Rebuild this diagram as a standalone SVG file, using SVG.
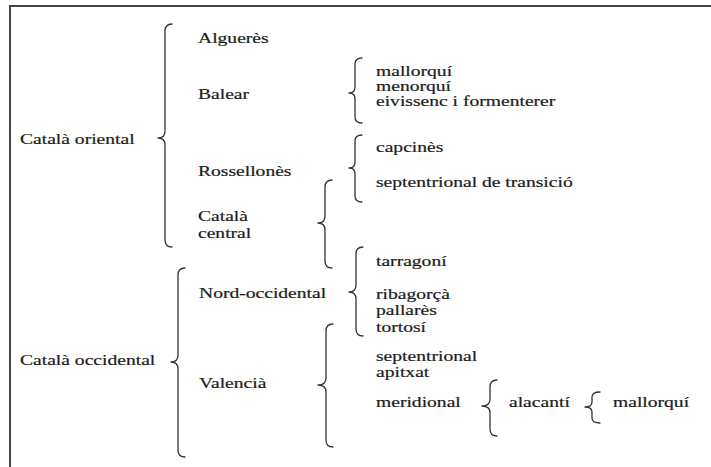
<svg xmlns="http://www.w3.org/2000/svg" width="711" height="467" viewBox="0 0 711 467">
<style>
text{font-family:"Liberation Serif","DejaVu Serif",serif;font-size:14.5px;fill:#1c1c1c;stroke:#1c1c1c;stroke-width:0.2;}
.br{fill:none;stroke:#333;stroke-width:1.3;stroke-linecap:round;stroke-linejoin:round;}
.frame{fill:none;stroke:#444;stroke-width:2;}
</style>
<rect width="711" height="467" fill="#fff"/>
<path class="frame" d="M10,467 L10,6 L711,6"/>
<g id="connectors">
<path class="br" d="M172,24 Q165,24 165,31 L165,131 Q165,138 158,138 Q165,138 165,145 L165,240 Q165,247 172,247"/>
<path class="br" d="M362,58 Q355,58 355,64 L355,87 Q355,93 349,93 Q355,93 355,99 L355,117 Q355,123 362,123"/>
<path class="br" d="M362,135 Q355,135 355,141 L355,162 Q355,168 349,168 Q355,168 355,174 L355,196 Q355,202 362,202"/>
<path class="br" d="M332,180 Q325,180 325,187 L325,216 Q325,223 318,223 Q325,223 325,230 L325,261 Q325,268 332,268"/>
<path class="br" d="M363,247 Q356,247 356,254 L356,285 Q356,292 349,292 Q356,292 356,299 L356,329 Q356,336 363,336"/>
<path class="br" d="M185,268 Q178,268 178,275 L178,355 Q178,362 171,362 Q178,362 178,369 L178,450 Q178,457 185,457"/>
<path class="br" d="M333,324 Q326,324 326,331 L326,378 Q326,385 318,385 Q326,385 326,392 L326,440 Q326,447 333,447"/>
<path class="br" d="M497,380 Q490,380 490,387 L490,399 Q490,406 482,406 Q490,406 490,413 L490,429 Q490,436 497,436"/>
<path class="br" d="M600,392 Q592,392 592,397 L592,402 Q592,407 585,407 Q592,407 592,412 L592,418 Q592,423 600,423"/>
</g>
<g id="catala-oriental"><text transform="translate(20,144) scale(1.35,1)">Català oriental</text></g>
<g id="algueres"><text transform="translate(198,43) scale(1.35,1)">Alguerès</text></g>
<g id="balear"><text transform="translate(198,99) scale(1.35,1)">Balear</text></g>
<g id="rossellones"><text transform="translate(198,176) scale(1.35,1)">Rossellonès</text></g>
<g id="catala-central"><text transform="translate(198,221) scale(1.35,1)">Català</text><text transform="translate(198,238) scale(1.35,1)">central</text></g>
<g id="catala-occidental"><text transform="translate(20,365) scale(1.35,1)">Català occidental</text></g>
<g id="nord-occidental"><text transform="translate(199,298) scale(1.35,1)">Nord-occidental</text></g>
<g id="valencia"><text transform="translate(199,388) scale(1.35,1)">Valencià</text></g>
<g id="balear-sub"><text transform="translate(376,76) scale(1.35,1)">mallorquí</text><text transform="translate(376,91) scale(1.35,1)">menorquí</text><text transform="translate(376,106) scale(1.35,1)">eivissenc i formenterer</text></g>
<g id="capcines"><text transform="translate(376,152) scale(1.35,1)">capcinès</text></g>
<g id="septentrional-transicio"><text transform="translate(376,187) scale(1.35,1)">septentrional de transició</text></g>
<g id="tarragoni"><text transform="translate(376,266) scale(1.35,1)">tarragoní</text></g>
<g id="nord-sub"><text transform="translate(376,299) scale(1.35,1)">ribagorçà</text><text transform="translate(376,315) scale(1.35,1)">pallarès</text><text transform="translate(376,332) scale(1.35,1)">tortosí</text></g>
<g id="valencia-sub"><text transform="translate(376,361) scale(1.35,1)">septentrional</text><text transform="translate(376,377) scale(1.35,1)">apitxat</text></g>
<g id="meridional"><text transform="translate(376,407) scale(1.35,1)">meridional</text></g>
<g id="alacanti"><text transform="translate(509,407) scale(1.35,1)">alacantí</text></g>
<g id="mallorqui-alacanti"><text transform="translate(613,407) scale(1.35,1)">mallorquí</text></g>
</svg>
